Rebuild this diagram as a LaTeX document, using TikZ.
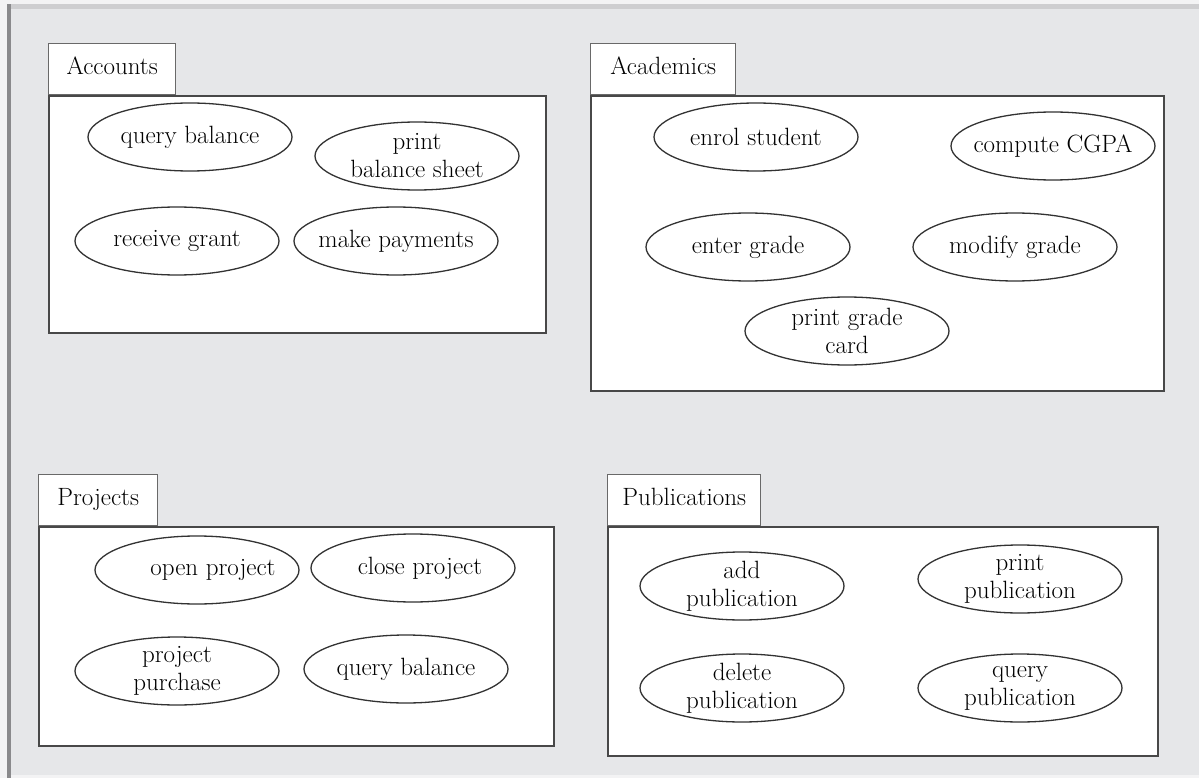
\documentclass[tikz,border=0pt]{standalone}
\usepackage{tikz}
\usetikzlibrary{positioning, shapes.geometric}
\definecolor{pagebg}{RGB}{230,231,233}
\definecolor{edgebg}{RGB}{243,243,244}
\definecolor{topband}{RGB}{206,206,208}
\definecolor{sidebar}{RGB}{138,138,140}
\definecolor{boxline}{RGB}{72,72,72}
\definecolor{tabline}{RGB}{105,105,105}
\definecolor{ucline}{RGB}{50,50,50}

\begin{document}
\begin{tikzpicture}[
    x=1pt, y=-1pt,
    font=\fontsize{25}{28}\selectfont,
    pkg/.style={rectangle, draw=boxline, line width=1.8pt, fill=white, anchor=north west, inner sep=0pt},
    tab/.style={rectangle, draw=tabline, line width=1.4pt, fill=white, inner sep=0pt, minimum height=51pt, text height=17pt, text depth=6pt},
    usecase/.style={ellipse, draw=ucline, line width=1.3pt, minimum width=204pt, minimum height=68pt, inner xsep=-22pt, inner ysep=-6pt, align=center}
]
\useasboundingbox (0,0) rectangle (1199,778);
% window frame
\fill[edgebg] (0,0) rectangle (1199,778);
\fill[pagebg] (7,4) rectangle (1199,775);
\fill[topband] (11,4) rectangle (1199,9);
\fill[sidebar] (7,4) rectangle (11,778);

% Accounts
\node[pkg, minimum width=497pt, minimum height=237pt] (accBody) at (48,95) {};
\node[tab, minimum width=127pt, above right=0pt and 0pt of accBody.north west] (accTab) {Accounts};
\node[usecase] (accQuery) at (190,137) {query balance};
\node[usecase] (accSheet) at (417,156) {print\\balance sheet};
\node[usecase] (accGrant) at (177,241) {receive grant};
\node[usecase] (accPay) at (396,241) {make payments};

% Academics
\node[pkg, minimum width=573pt, minimum height=295pt] (acadBody) at (590,95) {};
\node[tab, minimum width=145pt, above right=0pt and 0pt of acadBody.north west] (acadTab) {Academics};
\node[usecase] (acadEnrol) at (756,137) {enrol student};
\node[usecase] (acadCgpa) at (1053,146) {compute CGPA};
\node[usecase] (acadEnter) at (748,247) {enter grade};
\node[usecase] (acadModify) at (1015,247) {modify grade};
\node[usecase] (acadCard) at (847,331) {print grade\\card};

% Projects
\node[pkg, minimum width=515pt, minimum height=219pt] (projBody) at (38,526) {};
\node[tab, minimum width=119pt, above right=0pt and 0pt of projBody.north west] (projTab) {Projects};
\node[usecase] (projOpen) at (197,570) {\hspace*{32pt}open project};
\node[usecase] (projClose) at (413,568) {\hspace*{14pt}close project};
\node[usecase] (projBuy) at (177,671) {project\\purchase};
\node[usecase] (projQuery) at (406,669) {query balance};

% Publications
\node[pkg, minimum width=550pt, minimum height=229pt] (pubBody) at (607,526) {};
\node[tab, minimum width=153pt, above right=0pt and 0pt of pubBody.north west] (pubTab) {Publications};
\node[usecase] (pubAdd) at (742,586) {add\\publication};
\node[usecase] (pubPrint) at (1020,579) {print\\publication};
\node[usecase] (pubDelete) at (742,688) {delete\\publication};
\node[usecase] (pubQuery) at (1020,688) {query\\publication};
\end{tikzpicture}
\end{document}
